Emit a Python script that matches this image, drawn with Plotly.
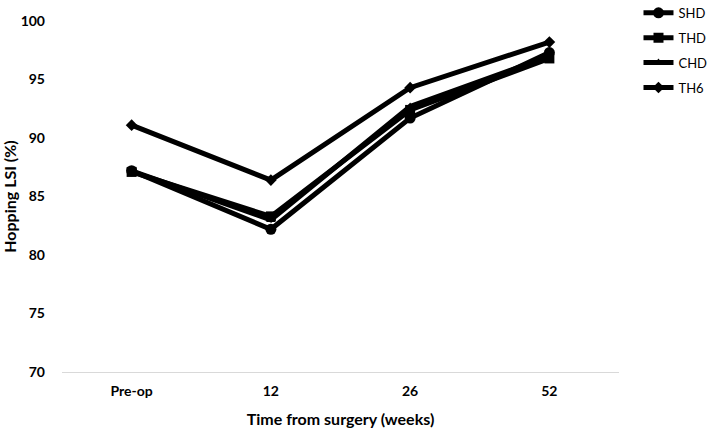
import plotly.graph_objects as go

categories = ["Pre-op", "12", "26", "52"]
shd = [87.2, 82.2, 91.7, 97.3]
thd = [87.1, 83.3, 92.4, 96.8]
chd = [87.2, 83.0, 92.7, 97.0]
th6 = [91.1, 86.4, 94.3, 98.2]
y_ticks = [70, 75, 80, 85, 90, 95, 100]

series = [
    ("SHD", shd, "circle", 11),
    ("THD", thd, "square", 10),
    ("CHD", chd, "triangle-up", 8),
    ("TH6", th6, "diamond", 9),
]

fig = go.Figure()
for name, vals, sym, size in series:
    fig.add_trace(go.Scatter(
        x=categories, y=vals, name=name, mode="lines+markers", legendgroup=name,
        line=dict(color="black", width=5),
        marker=dict(symbol=sym, size=size, color="black"),
    ))

font_family = "Lato, Open Sans, sans-serif"
fig.update_layout(
    width=709, height=428,
    margin=dict(l=62, r=90, t=21, b=56, autoexpand=False),
    paper_bgcolor="white", plot_bgcolor="white",
    font=dict(family=font_family, color="black"),
    showlegend=True,
    legend=dict(x=1.035, y=1.066, xanchor="left", yanchor="top",
                font=dict(size=13, color="black"), tracegroupgap=5,
                itemwidth=30, bgcolor="rgba(0,0,0,0)"),
    xaxis=dict(
        type="category", range=[-0.5, 3.5], showgrid=False, showline=True,
        linecolor="#d9d9d9", linewidth=1,
        ticks="", ticklabelstandoff=6,
        tickfont=dict(size=14, family=font_family, color="black", weight="bold"),
        title=dict(text="<b>Time from surgery (weeks)</b>", font=dict(size=16), standoff=16),
        zeroline=False,
    ),
    yaxis=dict(
        range=[70, 100], tickvals=y_ticks, showgrid=False, showline=False, zeroline=False,
        ticks="", ticklabelstandoff=16,
        tickfont=dict(size=14, family=font_family, color="black", weight="bold"),
        title=dict(text="<b>Hopping LSI (%)</b>", font=dict(size=16), standoff=10),
    ),
)

fig.write_html("out.html", config={"displayModeBar": False},
               post_script="document.body.style.margin='0';")
